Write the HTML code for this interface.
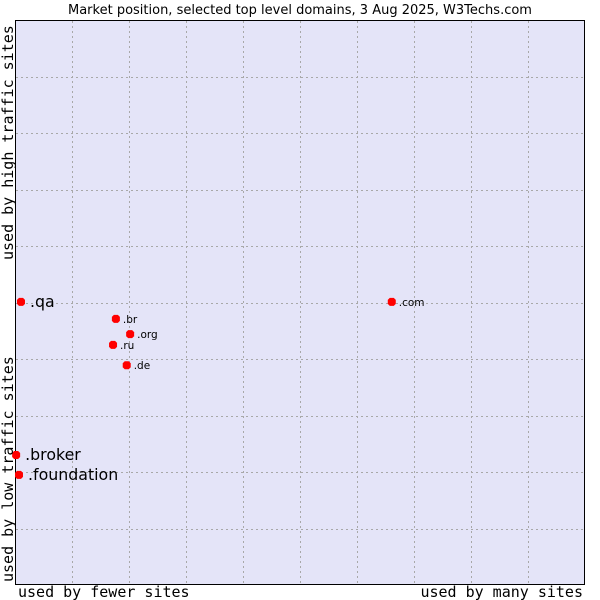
<!DOCTYPE html>
<html><head><meta charset="utf-8"><style>
body{margin:0;background:#fff;width:600px;height:600px;overflow:hidden}
svg{display:block}
</style></head><body>
<svg id="chart" width="600" height="600">
<rect x="0" y="0" width="600" height="600" fill="#fff"/>
<text x="300" y="14" text-anchor="middle" font-family="DejaVu Sans, sans-serif" font-size="13" fill="#000">Market position, selected top level domains, 3 Aug 2025, W3Techs.com</text>
<rect x="15.5" y="20.5" width="569" height="564" fill="#e4e4f8" stroke="#000"/>
<g id="grid"></g>
<g id="points"></g>
<text x="18" y="597" font-family="DejaVu Sans Mono, monospace" font-size="15">used by fewer sites</text>
<text x="583" y="597" text-anchor="end" font-family="DejaVu Sans Mono, monospace" font-size="15">used by many sites</text>
<text transform="translate(13,582) rotate(-90)" font-family="DejaVu Sans Mono, monospace" font-size="15">used by low traffic sites</text>
<text transform="translate(13,260) rotate(-90)" font-family="DejaVu Sans Mono, monospace" font-size="15">used by high traffic sites</text>
</svg>
<script>
const labels=[".qa",".br",".org",".ru",".de",".broker",".foundation",".com"];
const xValues=[1.05,17.7,20.2,17.2,19.6,0.2,0.7,66.1];
const yValues=[50.1,47.1,44.4,42.5,38.9,23.0,19.5,50.1];
const bigLabels=[true,false,false,false,false,true,true,false];
const NS="http://www.w3.org/2000/svg";
const L=15,R=585,T=20,B=585;
const sx=v=>L+(R-L)*v/100, sy=v=>B-(B-T)*v/100;
const grid=document.getElementById('grid');
for(let i=1;i<10;i++){
  const x=Math.round(sx(i*10))+0.5, y=Math.round(sy(i*10))+0.5;
  const lv=document.createElementNS(NS,'line');
  lv.setAttribute('x1',x);lv.setAttribute('x2',x);lv.setAttribute('y1',T+1);lv.setAttribute('y2',B);
  lv.setAttribute('stroke','#a8a8a8');lv.setAttribute('stroke-dasharray','2,3');
  
  
  grid.appendChild(lv);
  const lh=document.createElementNS(NS,'line');
  lh.setAttribute('y1',y);lh.setAttribute('y2',y);lh.setAttribute('x1',L+1);lh.setAttribute('x2',R);
  lh.setAttribute('stroke','#a8a8a8');lh.setAttribute('stroke-dasharray','2,3');
  
  
  grid.appendChild(lh);
}
const pts=document.getElementById('points');
labels.forEach((lab,i)=>{
  const x=sx(xValues[i]), y=sy(yValues[i]);
  const c=document.createElementNS(NS,'path');
  c.setAttribute('d',`M${x-4},${y-2}L${x-2},${y-4}L${x+2},${y-4}L${x+4},${y-2}L${x+4},${y+2}L${x+2},${y+4}L${x-2},${y+4}L${x-4},${y+2}Z`);
  c.setAttribute('fill','#ff0000');
  
  
  pts.appendChild(c);
  const t=document.createElementNS(NS,'text');
  const big=bigLabels[i];
  t.setAttribute('x',x+(big?9:7));
  t.setAttribute('y',y+(big?5:4));
  t.setAttribute('font-family','DejaVu Sans, sans-serif');
  t.setAttribute('font-size',big?15.8:10.5);
  t.textContent=lab;
  
  
  pts.appendChild(t);
});
</script>
</body></html>
